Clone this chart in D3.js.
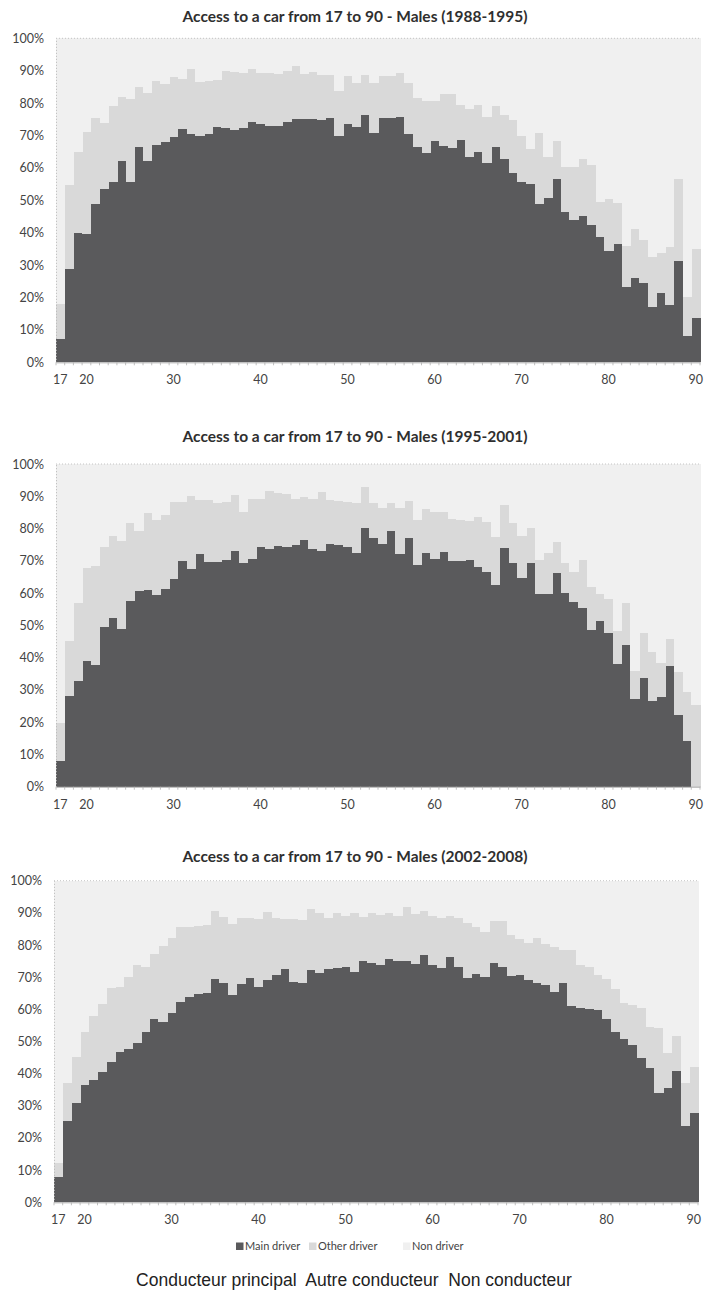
<!DOCTYPE html>
<html><head><meta charset="utf-8">
<script src="https://cdn.jsdelivr.net/npm/d3@7"></script>
<style>body{margin:0;background:#fff;} svg{display:block;}</style>
</head><body>
<svg id="chart" width="704" height="1301"></svg>
<script>
// ---------- DATA ----------
const ages = [17,18,19,20,21,22,23,24,25,26,27,28,29,30,31,32,33,34,35,36,37,38,39,40,41,42,43,44,45,46,47,48,49,50,51,52,53,54,55,56,57,58,59,60,61,62,63,64,65,66,67,68,69,70,71,72,73,74,75,76,77,78,79,80,81,82,83,84,85,86,87,88,89,90];
const xTickLabels = [17,20,30,40,50,60,70,80,90];
const yTickValues = [0,10,20,30,40,50,60,70,80,90,100];
const seriesNames = ["Main driver","Other driver","Non driver"];
const panelTitles = [
  "Access to a car from 17 to 90 - Males (1988-1995)",
  "Access to a car from 17 to 90 - Males (1995-2001)",
  "Access to a car from 17 to 90 - Males (2002-2008)"
];
const captionText = "Conducteur principal  Autre conducteur  Non conducteur";

// 1988-1995 (%)
const main1988 = [7.1,28.9,39.9,39.5,49.0,53.5,55.5,62.0,55.5,66.5,62.0,67.0,68.0,69.5,72.0,70.5,70.0,70.5,72.7,72.4,71.6,72.2,74.2,73.4,73.0,73.0,74.2,75.0,75.0,75.1,74.8,75.5,70.0,73.5,72.7,76.4,70.7,75.3,75.5,75.7,70.6,66.6,64.5,68.4,66.9,66.0,68.6,63.3,64.8,61.6,66.6,62.8,58.5,55.6,55.0,48.9,50.8,56.5,46.5,43.9,45.3,42.4,38.8,34.4,36.4,23.1,26.1,24.4,17.2,21.4,17.6,31.4,8.1,13.6];
const other1988 = [10.9,25.9,25.1,31.5,26.3,20.5,23.5,20.0,25.8,18.5,21.0,19.8,18.0,18.5,15.3,20.1,16.6,16.3,14.3,17.6,18.1,17.0,16.2,16.0,16.2,16.1,15.8,16.3,13.9,14.6,13.9,13.2,13.7,15.0,13.6,12.3,15.4,13.2,13.0,13.5,15.7,14.9,16.3,12.3,15.8,16.7,10.8,14.8,14.6,14.0,12.5,13.5,16.3,14.3,10.7,21.8,12.7,11.9,13.7,16.3,17.4,18.5,10.8,15.9,12.7,12.8,14.9,13.2,15.4,12.2,18.1,25.1,12.2,21.4];
const non1988 = [82.0,45.2,35.0,29.0,24.7,26.0,21.0,18.0,18.7,15.0,17.0,13.2,14.0,12.0,12.7,9.4,13.4,13.2,13.0,10.0,10.3,10.8,9.6,10.6,10.8,10.9,10.0,8.7,11.1,10.3,11.3,11.3,16.3,11.5,13.7,11.3,13.9,11.5,11.5,10.8,13.7,18.5,19.2,19.3,17.3,17.3,20.6,21.9,20.6,24.4,20.9,23.7,25.2,30.1,34.3,29.3,36.5,31.6,39.8,39.8,37.3,39.1,50.4,49.7,50.9,64.1,59.0,62.4,67.4,66.4,64.3,43.5,79.7,65.0];

// 1995-2001 (%)
const main1995 = [8.1,28.1,32.9,38.8,37.6,49.4,52.4,49.0,57.6,60.7,61.0,59.3,61.4,64.4,69.8,67.4,72.0,69.7,69.7,70.1,72.9,69.4,70.5,74.2,73.6,74.6,74.2,74.8,76.5,73.8,73.1,75.3,74.8,74.2,72.3,80.1,77.0,75.1,79.1,72.1,77.1,68.8,72.3,70.7,72.7,69.8,70.0,70.2,68.0,66.5,62.5,74.1,69.4,64.6,69.2,59.6,59.6,66.1,60.1,57.3,55.5,48.6,51.3,47.5,37.9,43.9,27.1,33.6,26.7,27.9,37.4,22.2,14.3,0];
const other1995 = [11.7,17.0,23.9,29.1,30.9,25.0,25.4,27.2,24.2,18.6,23.9,23.3,22.8,23.7,18.3,22.7,16.8,19.1,18.3,18.2,17.5,15.8,18.5,14.8,18.1,16.3,16.5,14.4,13.4,15.2,18.1,13.5,13.7,14.1,15.7,12.9,10.8,11.4,8.9,14.4,11.4,13.8,13.7,14.3,12.3,13.1,12.6,12.0,15.7,15.6,14.8,13.2,12.2,13.2,11.1,10.6,12.7,9.6,9.1,9.3,14.7,13.2,8.3,10.6,10.3,13.1,8.7,13.9,14.9,10.5,8.4,13.2,14.9,25.3];
const non1995 = [80.2,54.9,43.2,32.1,31.5,25.6,22.2,23.8,18.2,20.7,15.1,17.4,15.8,11.9,11.9,9.9,11.2,11.2,12.0,11.7,9.6,14.8,11.0,11.0,8.3,9.1,9.3,10.8,10.1,11.0,8.8,11.2,11.5,11.7,12.0,7.0,12.2,13.5,12.0,13.5,11.5,17.4,14.0,15.0,15.0,17.1,17.4,17.8,16.3,17.9,22.7,12.7,18.4,22.2,19.7,29.8,27.7,24.3,30.8,33.4,29.8,38.2,40.4,41.9,51.8,43.0,64.2,52.5,58.4,61.6,54.2,64.6,70.8,74.7];

// 2002-2008 (%)
const main2002 = [8.0,25.3,30.8,36.5,38.0,40.4,43.7,46.7,47.7,49.6,53.1,56.9,56.2,58.8,62.2,63.9,64.7,65.0,69.3,68.3,64.5,67.9,69.7,66.9,69.1,70.7,72.6,68.6,68.1,72.2,71.2,72.5,72.8,73.1,71.6,75.1,74.5,73.7,75.8,75.1,74.9,74.1,77.0,73.8,72.7,76.4,73.1,69.8,71.0,70.2,74.3,73.3,70.5,70.7,69.1,68.3,67.6,65.5,68.1,61.1,60.3,60.0,59.8,56.9,53.1,50.7,48.9,45.0,41.7,34.1,35.4,40.8,23.7,27.7];
const other2002 = [4.1,11.7,14.5,16.6,20.0,21.3,22.8,20.1,22.5,24.2,20.2,20.3,23.5,23.3,23.3,21.6,21.2,21.2,21.4,20.5,22.0,20.4,18.6,21.1,21.1,17.6,15.4,19.5,19.7,18.9,18.7,15.8,17.1,15.9,18.5,13.5,15.6,15.6,14.1,13.9,16.8,15.6,13.7,15.2,15.6,12.6,15.2,17.1,14.7,13.9,13.2,14.2,12.6,11.1,11.6,13.8,12.6,14.0,10.3,17.3,13.5,13.3,10.9,12.4,13.1,11.2,12.4,15.3,12.9,20.0,10.9,10.9,13.3,14.5];
const non2002 = [87.9,63.0,54.7,46.9,42.0,38.3,33.5,33.2,29.8,26.2,26.7,22.8,20.3,17.9,14.5,14.5,14.1,13.8,9.3,11.2,13.5,11.7,11.7,12.0,9.8,11.7,12.0,11.9,12.2,8.9,10.1,11.7,10.1,11.0,9.9,11.4,9.9,10.7,10.1,11.0,8.3,10.3,9.3,11.0,11.7,11.0,11.7,13.1,14.3,15.9,12.5,12.5,16.9,18.2,19.3,17.9,19.8,20.5,21.6,21.6,26.2,26.7,29.3,30.7,33.8,38.1,38.7,39.7,45.4,45.9,53.7,48.3,63.0,57.8];

// ---------- LAYOUT / STYLE ----------
const colors = {main:"#5a5a5c", other:"#d9d9d9", non:"#f0f0f0"};
const keys = ["main","other","non"];
const layouts = [
  {titleY:22, left:56, right:700, top:38.3, bottom:362.3},
  {titleY:442, left:56, right:700, top:464, bottom:786.7},
  {titleY:862, left:54, right:698, top:880.7, bottom:1202.3}
];
const seriesData = [
  [main1988, other1988, non1988],
  [main1995, other1995, non1995],
  [main2002, other2002, non2002]
];

const svg = d3.select("#chart");
const font = "Lato, 'Open Sans', sans-serif";

seriesData.forEach((s, p) => {
  const L = layouts[p];
  const rows = ages.map((a, i) => ({age:a, main:s[0][i], other:s[1][i], non:s[2][i]}));
  const stacked = d3.stack().keys(keys)(rows);
  const x = d3.scaleBand().domain(ages).range([L.left, L.right]).padding(0);
  const y = d3.scaleLinear().domain([0,100]).range([L.bottom, L.top]);
  const g = svg.append("g");

  // title
  g.append("text").attr("x", 355).attr("y", L.titleY)
    .attr("text-anchor","middle").attr("font-family", font)
    .attr("font-weight", 700).attr("font-size", 15.5).attr("fill","#2f2f2f")
    .text(panelTitles[p]);

  // bars
  g.selectAll("g.series").data(stacked).join("g")
    .attr("fill", d => colors[d.key])
    .selectAll("rect").data(d => d).join("rect")
      .attr("x", d => x(d.data.age))
      .attr("width", x.bandwidth() + 0.6)
      .attr("y", d => y(d[1]))
      .attr("height", d => Math.max(0, y(d[0]) - y(d[1])))
      .attr("shape-rendering","crispEdges");

  // top dotted gridline at 100%
  g.append("line").attr("x1", L.left).attr("x2", L.right)
    .attr("y1", y(100)).attr("y2", y(100))
    .attr("stroke","#c4c4c4").attr("stroke-dasharray","1,2");

  // y axis
  const ya = g.append("g").attr("transform", `translate(${L.left},0)`)
    .call(d3.axisLeft(y).tickValues(yTickValues).tickFormat(d => d + "%").tickSize(0).tickPadding(12));
  ya.select(".domain").attr("stroke","#b8b8b8").attr("stroke-dasharray","1,2");
  ya.selectAll("text").attr("font-family", font).attr("font-size", 12.5).attr("fill","#444");

  // x axis
  const xa = g.append("g").attr("transform", `translate(0,${L.bottom})`)
    .call(d3.axisBottom(x).tickValues(xTickLabels).tickSize(0).tickPadding(13));
  xa.select(".domain").attr("stroke","#a8a8a8");
  xa.selectAll("text").attr("font-family", font).attr("font-size", 12.5).attr("fill","#444");

  // minor ticks at category boundaries
  g.append("g").selectAll("line").data(ages).join("line")
    .attr("x1", d => x(d)).attr("x2", d => x(d))
    .attr("y1", L.bottom).attr("y2", L.bottom + 3)
    .attr("stroke","#b0b0b0").attr("stroke-width",0.8);
  g.append("line").attr("x1", L.right).attr("x2", L.right)
    .attr("y1", L.bottom).attr("y2", L.bottom + 3)
    .attr("stroke","#b0b0b0").attr("stroke-width",0.8);
});

// legend
const legendY = 1250;
const legendItems = [
  {key:"main", sx:236, tx:245},
  {key:"other", sx:309, tx:318},
  {key:"non", sx:403, tx:412}
];
const lg = svg.append("g");
legendItems.forEach((it, i) => {
  lg.append("rect").attr("x", it.sx).attr("y", legendY - 7.5).attr("width", 7.5).attr("height", 7.5)
    .attr("fill", colors[it.key]);
  lg.append("text").attr("x", it.tx).attr("y", legendY).attr("font-family", font)
    .attr("font-size", 11).attr("fill","#444").text(seriesNames[i]);
});

// caption
svg.append("text").attr("x", 354).attr("y", 1286).attr("text-anchor","middle")
  .attr("font-family","'Liberation Sans', Arial, sans-serif").attr("font-size", 17.5)
  .attr("fill","#222").style("white-space","pre").text(captionText);
</script>
</body></html>
